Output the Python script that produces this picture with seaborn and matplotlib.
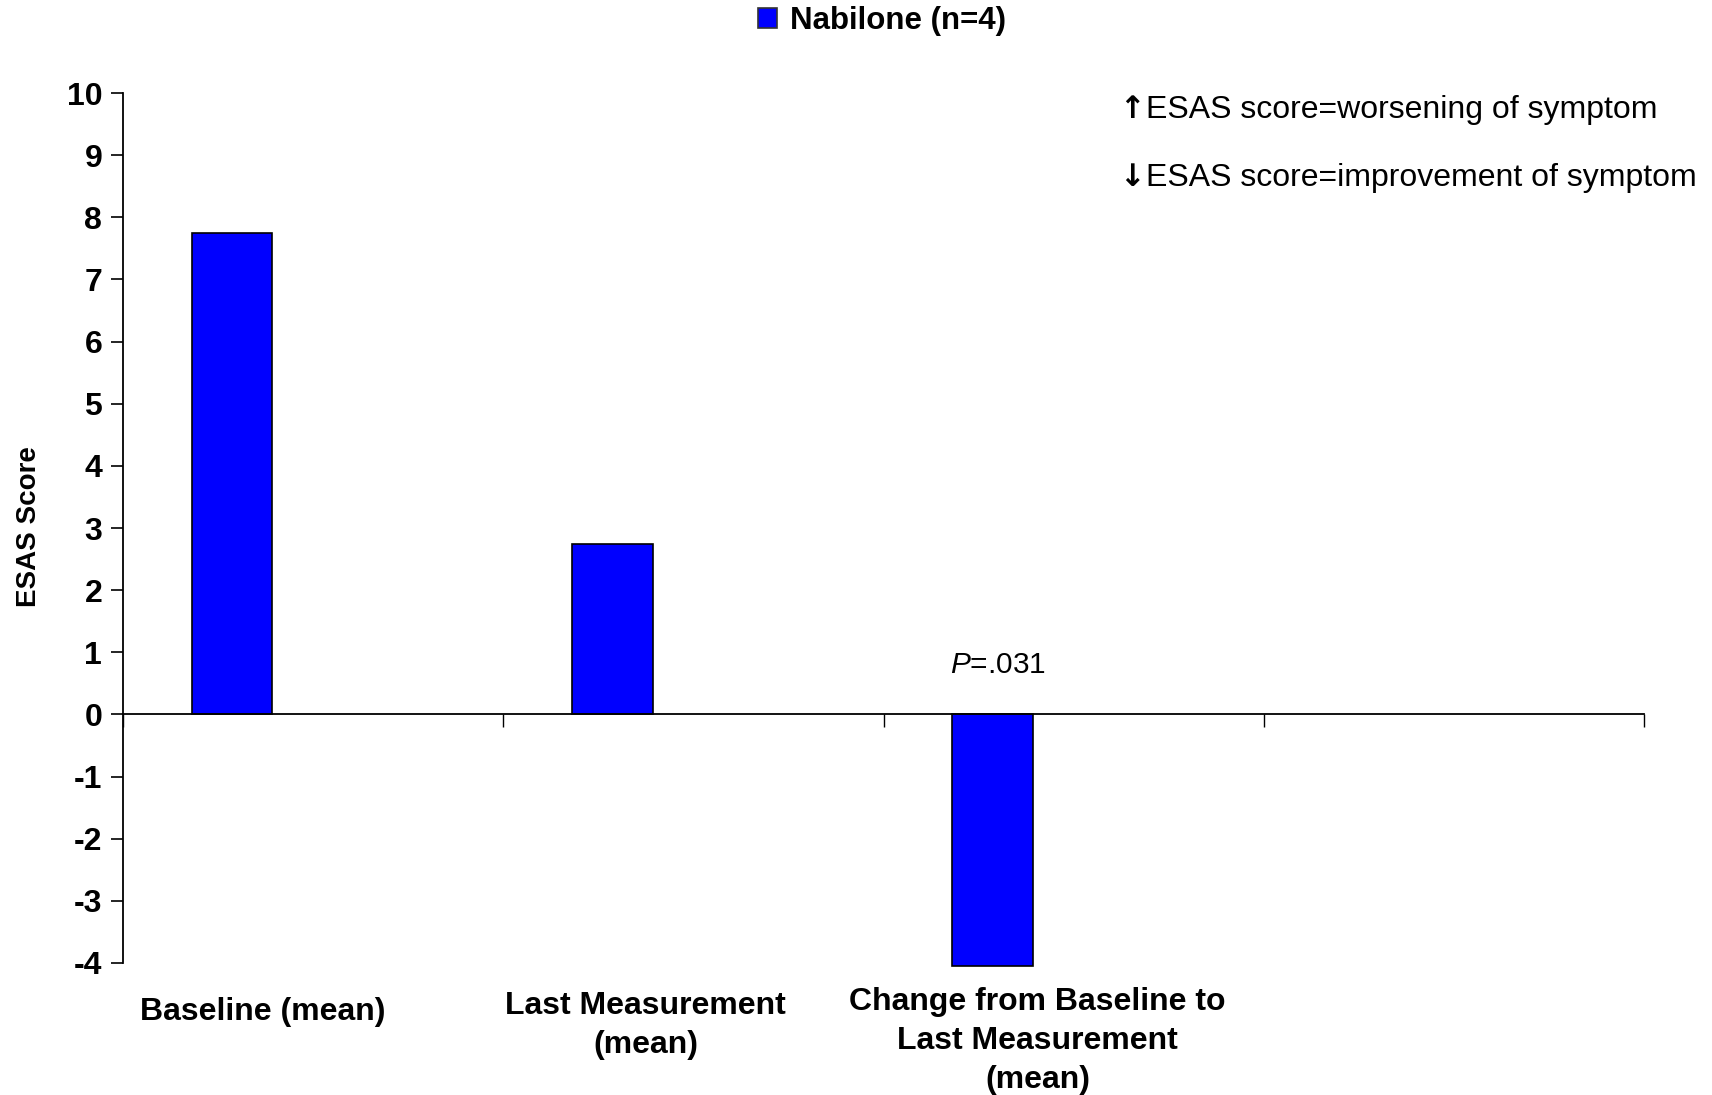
import matplotlib
matplotlib.use("Agg")
import matplotlib.pyplot as plt
from matplotlib.patches import Patch
from matplotlib.transforms import blended_transform_factory
import seaborn as sns
import pandas as pd
import numpy as np

# ---- data ----
categories = ["Baseline (mean)", "Last Measurement\n(mean)",
              "Change from Baseline to\nLast Measurement\n(mean)"]
values = [7.75, 2.75, -4.05]
series_name = "Nabilone (n=4)"
y_ticks = list(range(-4, 11))
p_text = "$\\mathit{P}$=.031"
arrow_up, note_up = "\u2191", "ESAS score=worsening of symptom"
arrow_down, note_down = "\u2193", "ESAS score=improvement of symptom"
y_label = "ESAS Score"

sns.set_theme(style="white")
plt.rcParams['font.family'] = ['Liberation Sans', 'DejaVu Sans']
plt.rcParams['mathtext.fontset'] = 'custom'
plt.rcParams['mathtext.it'] = 'Liberation Sans:italic'
plt.rcParams['mathtext.rm'] = 'Liberation Sans'
for k in ["text.color", "axes.labelcolor", "xtick.color", "ytick.color", "axes.edgecolor"]:
    plt.rcParams[k] = "black"

W, H = 1712, 1095
fig = plt.figure(figsize=(W / 100, H / 100), dpi=100)
fig.patch.set_facecolor("white")
ax = fig.add_axes([123 / W, 1 - 963 / H, (1644 - 123) / W, (963 - 93) / H])
ax.set_facecolor("white")

slots = np.arange(len(categories))
df = pd.DataFrame({"pos": slots + 0.287, "value": values, "series": series_name})
sns.barplot(data=df, x="pos", y="value", native_scale=True, width=0.212,
            color="#0000FF", saturation=1, edgecolor="black", linewidth=1.2,
            ax=ax, errorbar=None)
for p in ax.patches:
    p.set_clip_on(False)

ax.set_xlim(0, 4)
ax.set_ylim(-4, 10)
ax.set_yticks(y_ticks)
ax.set_yticklabels([str(t) for t in y_ticks], fontsize=23, fontweight="bold")
ax.set_xticks([0, 1, 2, 3, 4])
ax.set_xticklabels([])
ax.set_xlabel("")

for s in ["top", "right"]:
    ax.spines[s].set_visible(False)
ax.spines["left"].set_linewidth(1.3)
ax.spines["bottom"].set_linewidth(1.3)
ax.spines["bottom"].set_position(("data", 0))
ax.tick_params(axis="y", direction="out", length=9, width=1.2, color="black", pad=6, left=True)
ax.tick_params(axis="x", direction="out", length=9, width=1.0, color="black", bottom=True)

ax.set_ylabel(y_label, fontsize=20, fontweight="bold")
ax.yaxis.set_label_coords((42 - 123) / 1521, 0.502)

# category labels
trans = blended_transform_factory(ax.transData, fig.transFigure)
label_x = [0.367, 1.374, 2.405]
label_top = [997, 991, 987]
for lx, ly, lab in zip(label_x, label_top, categories):
    ax.text(lx, 1 - ly / H, lab, transform=trans, ha="center", va="top",
            fontsize=23, fontweight="bold", linespacing=1.39)

ax.text(2.30, 0.8, p_text, ha="center", va="center", fontsize=21.5)

for ypix, arr, note in [(110, arrow_up, note_up), (178, arrow_down, note_down)]:
    fig.text(1119 / W, 1 - ypix / H, arr, ha="left", va="center", fontsize=22,
             family="DejaVu Sans", fontweight="bold")
    fig.text(1146 / W, 1 - ypix / H, note, ha="left", va="center", fontsize=23)

handle = Patch(facecolor="#0000FF", edgecolor="#333333", linewidth=1.2, label=series_name)
fig.legend(handles=[handle], loc="center", bbox_to_anchor=(882 / W, 1 - 21 / H),
           frameon=False, prop={"size": 22.5, "weight": "bold"},
           handlelength=0.6, handleheight=0.6, handletextpad=0.4)

fig.savefig("out.png", dpi=100, facecolor="white")
